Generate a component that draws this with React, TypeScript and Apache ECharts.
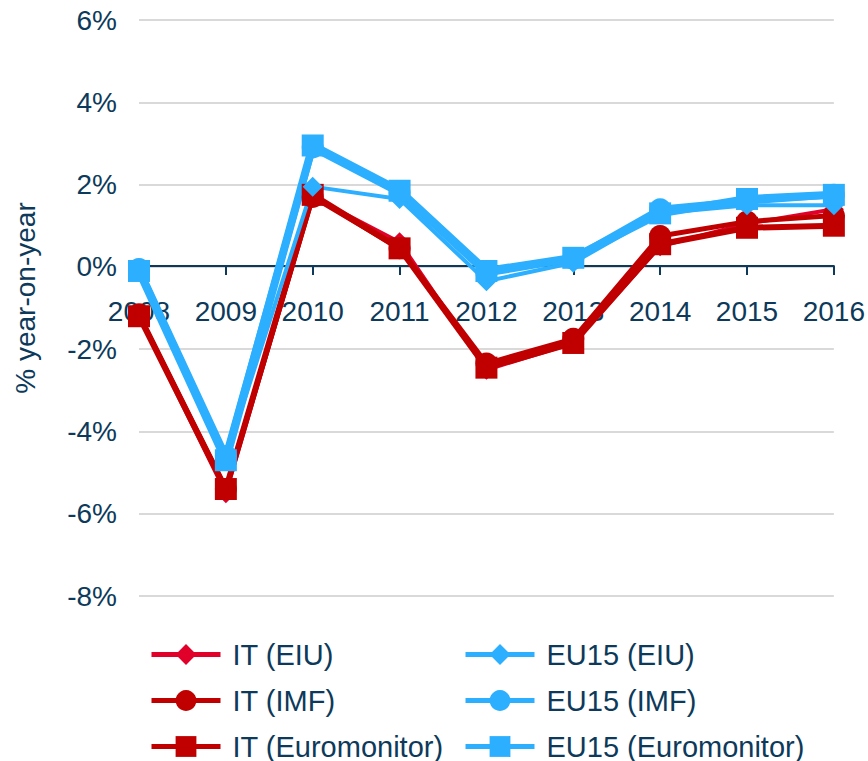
import React, { useEffect, useRef } from "react";
import * as echarts from "echarts";

const years = ["2008", "2009", "2010", "2011", "2012", "2013", "2014", "2015", "2016"];
const itEIU = [-1.2, -5.5, 1.7, 0.6, -2.5, -1.85, 0.5, 1.05, 1.4];
const itIMF = [-1.15, -5.4, 1.7, 0.45, -2.35, -1.75, 0.75, 1.1, 1.25];
const itEuro = [-1.2, -5.4, 1.75, 0.45, -2.45, -1.85, 0.55, 0.95, 1.0];
const euEIU = [-0.05, -4.65, 1.95, 1.65, -0.35, 0.1, 1.3, 1.5, 1.5];
const euIMF = [-0.05, -4.6, 2.9, 1.8, -0.15, 0.2, 1.4, 1.6, 1.75];
const euEuro = [-0.1, -4.7, 2.95, 1.85, -0.1, 0.22, 1.3, 1.65, 1.75];

const TEXT = "#0D3A5A";
const RED1 = "#E0002A";
const RED2 = "#C00000";
const BLUE = "#2CAFFE";
const FONT = "Liberation Sans, Arial, sans-serif";

export default function App() {
  const ref = useRef<HTMLDivElement>(null);
  useEffect(() => {
    const chart = echarts.init(ref.current!, undefined, { renderer: "svg" });
    const mk = (name: string, data: number[], color: string, symbol: string, size: number, width: number) => ({
      name,
      type: "line",
      data,
      symbol,
      symbolSize: size,
      showAllSymbol: true,
      lineStyle: { color, width },
      itemStyle: { color },
      emphasis: { disabled: true },
    });
    const legendBase = {
      orient: "vertical",
      top: 640,
      height: 200,
      padding: 0,
      itemWidth: 69,
      itemHeight: 26,
      itemGap: 17,
      lineStyle: { width: 5 },
      textStyle: { color: TEXT, fontSize: 29, fontFamily: FONT, padding: [0, 0, 0, 7] },
      selectedMode: false,
    };
    chart.setOption({
      animation: false,
      textStyle: { fontFamily: FONT },
      grid: { left: 139, right: 33, top: 20, bottom: 165, containLabel: false },
      xAxis: {
        type: "category",
        data: years,
        boundaryGap: false,
        position: "bottom",
        offset: -330,
        axisLine: { onZero: false, lineStyle: { color: TEXT, width: 2 } },
        axisTick: { show: true, alignWithLabel: true, length: 9, lineStyle: { color: TEXT, width: 2 } },
        axisLabel: { color: TEXT, fontSize: 28, margin: 31, fontFamily: FONT },
        splitLine: { show: false },
        z: 1,
      },
      yAxis: {
        type: "value",
        min: -8,
        max: 6,
        interval: 2,
        name: "% year-on-year",
        nameLocation: "middle",
        nameRotate: 90,
        nameGap: 100,
        nameTextStyle: { color: TEXT, fontSize: 28, fontFamily: FONT, padding: [0, 0, 0, 20] },
        axisLine: { show: false },
        axisTick: { show: false },
        axisLabel: { color: TEXT, fontSize: 28, margin: 22, formatter: (v: number) => `${v}%`, fontFamily: FONT },
        splitLine: { lineStyle: { color: "#D9D9D9", width: 2 } },
      },
      legend: [
        { ...legendBase, data: ["IT (EIU)", "IT (IMF)", "IT (Euromonitor)"], left: 149 },
        { ...legendBase, data: ["EU15 (EIU)", "EU15 (IMF)", "EU15 (Euromonitor)"], left: 463 },
      ],
      series: [
        mk("IT (EIU)", itEIU, RED1, "diamond", 20, 4),
        mk("IT (IMF)", itIMF, RED2, "circle", 22, 5),
        mk("IT (Euromonitor)", itEuro, RED2, "rect", 22, 6),
        mk("EU15 (EIU)", euEIU, BLUE, "diamond", 20, 4),
        mk("EU15 (IMF)", euIMF, BLUE, "circle", 22, 7),
        mk("EU15 (Euromonitor)", euEuro, BLUE, "rect", 22, 8),
      ],
    });
    return () => chart.dispose();
  }, []);
  return <div ref={ref} style={{ width: 868, height: 761, position: "absolute", left: 0, top: 0 }} />;
}
